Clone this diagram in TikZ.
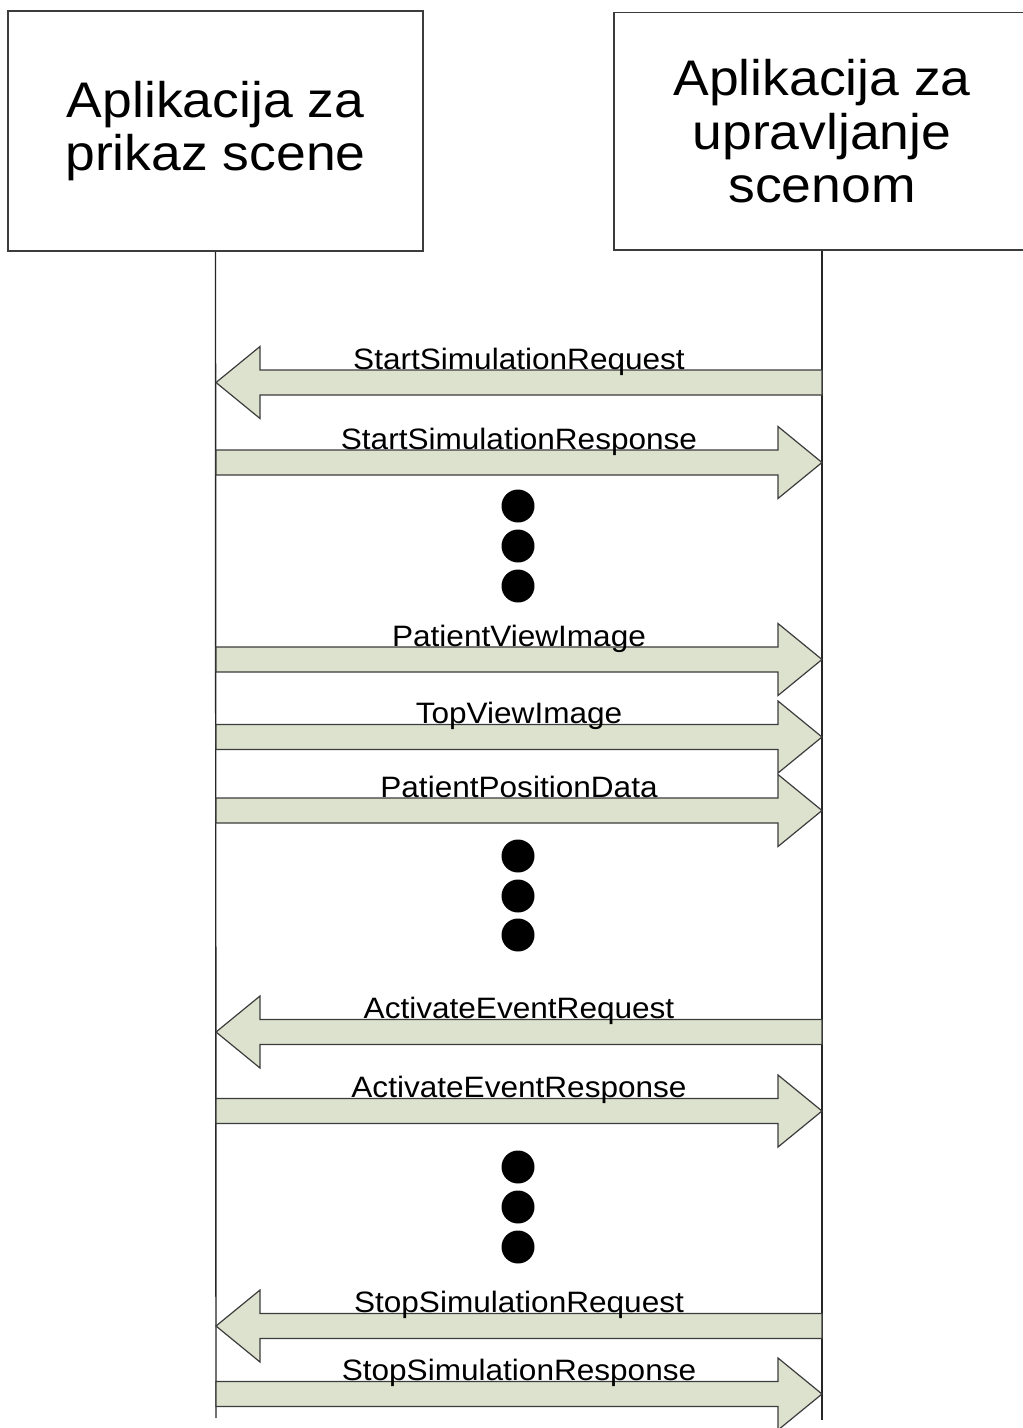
\documentclass[tikz,border=0pt]{standalone}
\usepackage{fontspec}
\setmainfont{Liberation Sans}[FakeStretch=1.07]
\usetikzlibrary{calc}
\definecolor{arrowfill}{RGB}{220,226,206}
\definecolor{edgegray}{RGB}{60,60,60}
\begin{document}
\begin{tikzpicture}[x=1pt,y=-1pt,
  actor/.style={draw=edgegray, line width=1.3pt, fill=white, align=center,
    font=\fontsize{50}{53.5}\selectfont, inner sep=0pt},
  lifeline/.style={draw=black!85, line width=1.4pt},
  fatarrow/.style={draw=edgegray, fill=arrowfill, line width=1.2pt, line join=miter,
    to path={
      ($(\tikztostart)!12.5pt!90:(\tikztotarget)$)
      -- ($(\tikztotarget)!44pt!(\tikztostart)!12.5pt!-90:(\tikztostart)$)
      -- ($(\tikztotarget)!44pt!(\tikztostart)!36pt!-90:(\tikztostart)$)
      -- (\tikztotarget)
      -- ($(\tikztotarget)!44pt!(\tikztostart)!36pt!90:(\tikztostart)$)
      -- ($(\tikztotarget)!44pt!(\tikztostart)!12.5pt!90:(\tikztostart)$)
      -- ($(\tikztostart)!12.5pt!-90:(\tikztotarget)$)
      -- cycle}},
  msglabel/.style={font=\fontsize{29.5}{32}\selectfont, anchor=base, inner sep=0pt, text=black},
  dotmark/.style={circle, fill=black, minimum size=33pt, inner sep=0pt}]

\clip (0,0) rectangle (1023,1428);
\fill[white] (0,0) rectangle (1023,1428);

% participants
\node[actor, minimum width=415pt, minimum height=240pt] (viewer) at (215.5,131)
  {Aplikacija za\\prikaz scene};
\node[actor, minimum width=416pt, minimum height=237.5pt] (control) at (822,131.25)
  {Aplikacija za\\upravljanje\\scenom};

% lifelines
\coordinate (viewerEnd) at (216,1418);
\coordinate (controlEnd) at (822,1420);
\draw[lifeline] (viewer.south) -- (viewerEnd);
\draw[lifeline] (control.south) -- (controlEnd);

% message anchor points on the lifelines
\foreach \i/\y in {1/382.5,2/462.5,3/659.5,4/737,5/810.5,6/1032,7/1111,8/1326,9/1394}{
  \coordinate (v\i) at (216,\y);
  \coordinate (c\i) at (822,\y);
}

% messages
\draw[fatarrow] (c1) to (v1);
\draw[fatarrow] (v2) to (c2);
\draw[fatarrow] (v3) to (c3);
\draw[fatarrow] (v4) to (c4);
\draw[fatarrow] (v5) to (c5);
\draw[fatarrow] (c6) to (v6);
\draw[fatarrow] (v7) to (c7);
\draw[fatarrow] (c8) to (v8);
\draw[fatarrow] (v9) to (c9);

% message labels
\node[msglabel] (t1) at ($(v1)!0.5!(c1)+(0,-13.5)$) {StartSimulationRequest};
\node[msglabel] (t2) at ($(v2)!0.5!(c2)+(0,-13.5)$) {StartSimulationResponse};
\node[msglabel] (t3) at ($(v3)!0.5!(c3)+(0,-13.5)$) {PatientViewImage};
\node[msglabel] (t4) at ($(v4)!0.5!(c4)+(0,-13.5)$) {TopViewImage};
\node[msglabel] (t5) at ($(v5)!0.5!(c5)+(0,-13.5)$) {PatientPositionData};
\node[msglabel] (t6) at ($(v6)!0.5!(c6)+(0,-13.5)$) {ActivateEventRequest};
\node[msglabel] (t7) at ($(v7)!0.5!(c7)+(0,-13.5)$) {ActivateEventResponse};
\node[msglabel] (t8) at ($(v8)!0.5!(c8)+(0,-13.5)$) {StopSimulationRequest};
\node[msglabel] (t9) at ($(v9)!0.5!(c9)+(0,-13.5)$) {StopSimulationResponse};

% ellipsis dots
\foreach \n/\y in {a1/506,a2/546,a3/586,b1/856,b2/896,b3/935,c1/1167,c2/1207,c3/1247}{
  \node[dotmark] (dot\n) at (518,\y) {};
}
\end{tikzpicture}
\end{document}
